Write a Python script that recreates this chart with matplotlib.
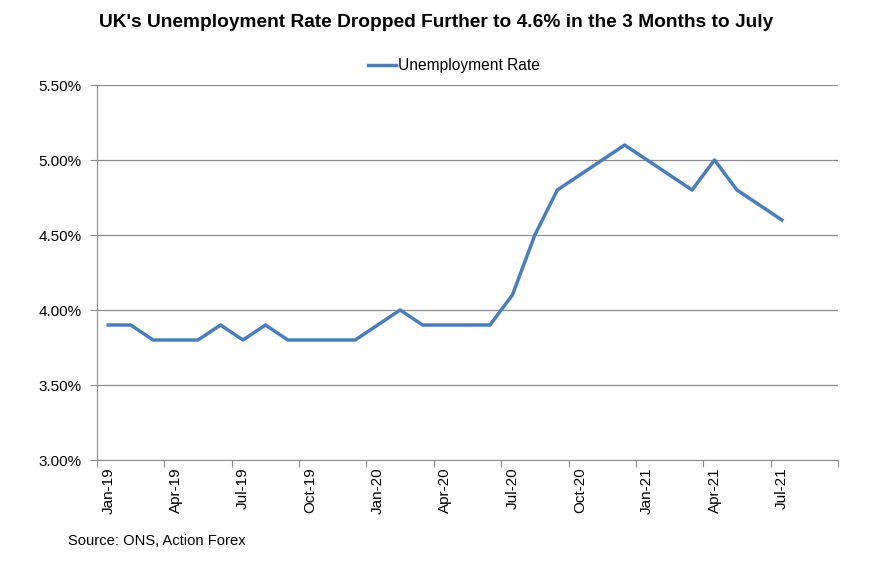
import matplotlib.pyplot as plt
import numpy as np

months = ["Jan-19", "Feb-19", "Mar-19", "Apr-19", "May-19", "Jun-19", "Jul-19", "Aug-19",
          "Sep-19", "Oct-19", "Nov-19", "Dec-19", "Jan-20", "Feb-20", "Mar-20", "Apr-20",
          "May-20", "Jun-20", "Jul-20", "Aug-20", "Sep-20", "Oct-20", "Nov-20", "Dec-20",
          "Jan-21", "Feb-21", "Mar-21", "Apr-21", "May-21", "Jun-21", "Jul-21"]
rate = [3.9, 3.9, 3.8, 3.8, 3.8, 3.9, 3.8, 3.9, 3.8, 3.8, 3.8, 3.8, 3.9, 4.0, 3.9, 3.9,
        3.9, 3.9, 4.1, 4.5, 4.8, 4.9, 5.0, 5.1, 5.0, 4.9, 4.8, 5.0, 4.8, 4.7, 4.6]

plt.rcParams['font.family'] = ['Liberation Sans', 'DejaVu Sans']

fig = plt.figure(figsize=(8.75, 5.61), dpi=100)
ax = fig.add_axes([97 / 875, 101 / 561, 741 / 875, 375 / 561])

x = np.arange(len(months))
ax.plot(x, rate, color='#4A7EBB', lw=2.5, label='Unemployment Rate')

ax.set_xlim(-0.5, 32.5)
ax.set_ylim(3.0, 5.5)
ax.set_yticks(np.arange(3.0, 5.51, 0.5))
ax.set_yticklabels([f"{v:.2f}%" for v in np.arange(3.0, 5.51, 0.5)], fontsize=11)
ax.yaxis.grid(True, color='#8c8c8c', lw=0.9)
ax.set_axisbelow(True)

# category boundaries as major ticks, labels on the months in between
ax.set_xticks(np.arange(-0.5, 33, 3))
ax.set_xticklabels([])
ax.set_xticks(x[::3], minor=True)
ax.set_xticklabels(months[::3], minor=True, rotation=90, fontsize=11)
ax.tick_params(axis='x', which='major', length=5, color='#8c8c8c', direction='out')
ax.tick_params(axis='x', which='minor', length=0, pad=5)
ax.tick_params(axis='y', length=5, color='#8c8c8c', pad=6)

for s in ['top', 'right']:
    ax.spines[s].set_visible(False)
for s in ['left', 'bottom']:
    ax.spines[s].set_color('#8c8c8c')

fig.text(0.498, 0.96, "UK's Unemployment Rate Dropped Further to 4.6% in the 3 Months to July",
         ha='center', va='center', fontsize=13.8, fontweight='bold')
ax.legend(loc='lower center', bbox_to_anchor=(0.482, 1.0), frameon=False,
          handlelength=1.8, handletextpad=0.15, borderaxespad=0.35,
          prop={'size': 11.2})
fig.text(68 / 875, 1 - 541 / 561, "Source: ONS, Action Forex", fontsize=10.6, va='center')

fig.savefig('out.png', dpi=100)
